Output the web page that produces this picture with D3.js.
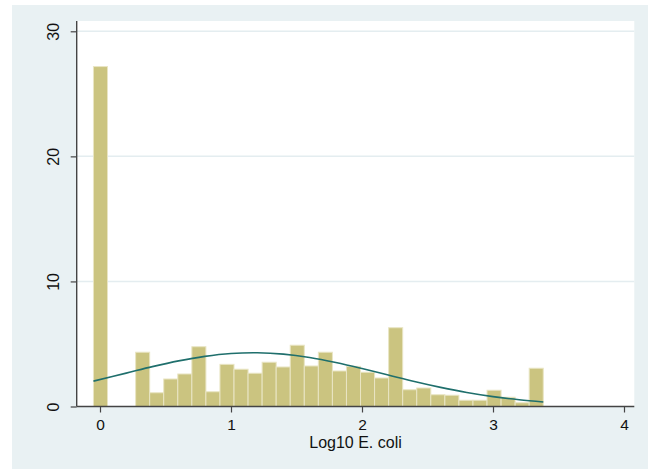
<!DOCTYPE html>
<html>
<head>
<meta charset="utf-8">
<script src="https://cdn.jsdelivr.net/npm/d3@7"></script>
<style>
  html, body { margin: 0; padding: 0; background: #ffffff; }
  svg { display: block; }
  text { font-family: "Liberation Sans", Arial, sans-serif; fill: #111; }
</style>
</head>
<body>
<svg id="chart" width="648" height="469"></svg>
<script>
// Histogram of Log10 E. coli (percent per bin) with a fitted normal curve
const binStart = -0.05;
const binWidth = 0.1073;
const binPercent = [27.18, 0, 0, 4.34, 1.10, 2.20, 2.60, 4.78, 1.18, 3.37, 2.98,
  2.66, 3.54, 3.16, 4.90, 3.24, 4.34, 2.84, 3.21, 2.74, 2.28, 6.30, 1.34, 1.48,
  0.94, 0.90, 0.50, 0.50, 1.30, 0.74, 0.30, 3.06];

// Normal density overlay, in the same percent units
const curveX = [-0.05, 0.2, 0.4, 0.6, 0.8, 1.0, 1.2, 1.4, 1.6, 1.8, 2.0, 2.2, 2.4,
  2.6, 2.8, 3.0, 3.2, 3.384];
const curveY = [2.03, 2.67, 3.19, 3.65, 4.01, 4.24, 4.30, 4.19, 3.92, 3.52, 3.04,
  2.52, 2.00, 1.53, 1.12, 0.79, 0.54, 0.36];

const xTicks = [0, 1, 2, 3, 4];
const yTicks = [0, 10, 20, 30];
const xTitle = "Log10 E. coli";

const svg = d3.select("#chart");

// graph region
svg.append("rect")
  .attr("x", 12).attr("y", 5).attr("width", 636).attr("height", 464)
  .attr("fill", "#e9f1f3");

// plot region
const plot = { left: 76.7, right: 634.3, top: 21, bottom: 406.5 };
svg.append("rect")
  .attr("x", plot.left).attr("y", plot.top)
  .attr("width", plot.right - plot.left).attr("height", plot.bottom - plot.top)
  .attr("fill", "#ffffff");

const x = d3.scaleLinear().domain([0, 4]).range([100, 624]);
const y = d3.scaleLinear().domain([0, 30]).range([406.5, 31.3]);

// horizontal grid lines
svg.append("g").selectAll("line")
  .data(yTicks.filter(d => d > 0))
  .join("line")
  .attr("x1", plot.left).attr("x2", plot.right)
  .attr("y1", d => y(d)).attr("y2", d => y(d))
  .attr("stroke", "#e4edf0").attr("stroke-width", 1.5);

// bars
const bins = binPercent.map((v, i) => ({
  x0: binStart + i * binWidth,
  x1: binStart + (i + 1) * binWidth,
  v
})).filter(d => d.v > 0);

svg.append("g").selectAll("rect")
  .data(bins)
  .join("rect")
  .attr("x", d => x(d.x0))
  .attr("width", d => x(d.x1) - x(d.x0))
  .attr("y", d => y(d.v))
  .attr("height", d => y(0) - y(d.v))
  .attr("fill", "#cbc480")
  .attr("stroke", "#e9e5c4")
  .attr("stroke-width", 1);

// normal curve
const line = d3.line()
  .x(d => x(d[0]))
  .y(d => y(d[1]))
  .curve(d3.curveCatmullRom);

svg.append("path")
  .datum(curveX.map((v, i) => [v, curveY[i]]))
  .attr("d", line)
  .attr("fill", "none")
  .attr("stroke", "#1f6f6c")
  .attr("stroke-width", 1.6);

// axes
const fmt = d3.format("d");
const yAxis = d3.axisLeft(y).tickValues(yTicks).tickFormat(fmt)
  .tickSize(6).tickSizeOuter(0).tickPadding(0);
const gy = svg.append("g").attr("transform", `translate(${plot.left},0)`).call(yAxis);
gy.select(".domain").remove();
gy.selectAll(".tick line").attr("stroke", "#444").attr("stroke-width", 1.2);
gy.selectAll(".tick text")
  .attr("x", 0).attr("y", 0).attr("dy", 0)
  .attr("text-anchor", "middle")
  .attr("transform", "translate(-17.3,0) rotate(-90)")
  .style("font-size", "16px");

const xAxis = d3.axisBottom(x).tickValues(xTicks).tickFormat(fmt)
  .tickSize(6).tickSizeOuter(0).tickPadding(0);
const gx = svg.append("g").attr("transform", `translate(0,${plot.bottom})`).call(xAxis);
gx.select(".domain").remove();
gx.selectAll(".tick line").attr("stroke", "#444").attr("stroke-width", 1.2);
gx.selectAll(".tick text")
  .attr("y", 23).attr("dy", 0)
  .style("font-size", "15.5px");

// axis lines
svg.append("line")
  .attr("x1", plot.left).attr("x2", plot.left)
  .attr("y1", plot.top).attr("y2", plot.bottom)
  .attr("stroke", "#444").attr("stroke-width", 1.4);
svg.append("line")
  .attr("x1", plot.left).attr("x2", plot.right)
  .attr("y1", plot.bottom).attr("y2", plot.bottom)
  .attr("stroke", "#444").attr("stroke-width", 1.4);

// axis title
svg.append("text")
  .attr("x", (plot.left + plot.right) / 2)
  .attr("y", 447.5)
  .attr("text-anchor", "middle")
  .style("font-size", "16px")
  .text(xTitle);
</script>
</body>
</html>
